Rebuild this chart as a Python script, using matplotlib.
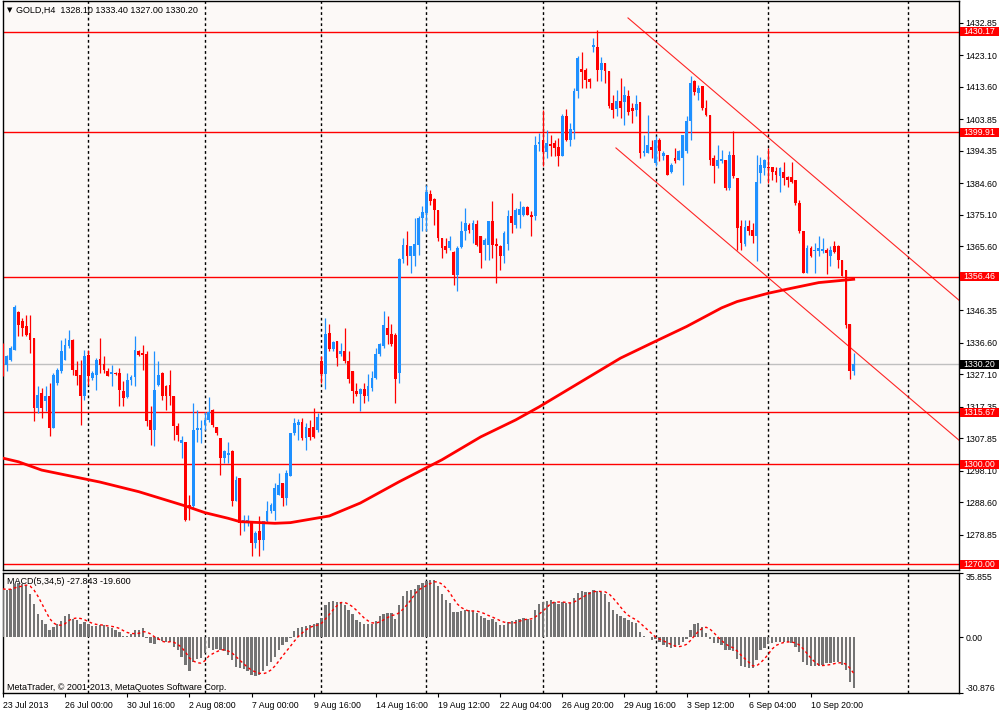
import numpy as np
import pandas as pd
import matplotlib
matplotlib.use("Agg")
import matplotlib.pyplot as plt
from matplotlib.patches import Rectangle

plt.rcParams['font.family'] = ['Liberation Sans', 'DejaVu Sans']
plt.rcParams['font.size'] = 6.3

# GOLD H4 candles, 23 Jul 2013 .. 12 Sep 2013 (one bar = 4 hours)
opens = [
    1329.5, 1330.0, 1331.5, 1334.5, 1346.0, 1343.0, 1341.5, 1339.5, 1338.0, 1317.0,
    1321.5, 1319.0, 1320.5, 1311.0, 1324.5, 1328.0, 1331.5, 1335.5, 1337.5, 1328.5,
    1327.0, 1320.5, 1333.0, 1326.0, 1327.0, 1331.7, 1330.3, 1328.2, 1327.3, 1327.6,
    1327.5, 1322.2, 1320.3, 1325.3, 1326.3, 1334.0, 1333.5, 1333.3, 1313.3, 1310.5,
    1324.0, 1327.5, 1323.7, 1324.0, 1320.5, 1311.5, 1306.5, 1306.9, 1287.9, 1287.4,
    1310.4, 1310.4, 1311.9, 1313.4, 1316.4, 1311.4, 1307.9, 1301.9, 1302.9, 1303.9,
    1288.9, 1295.9, 1282.4, 1282.6, 1282.9, 1276.4, 1279.9, 1277.4, 1282.9, 1285.9,
    1285.9, 1290.9, 1294.4, 1289.9, 1296.4, 1309.4, 1311.9, 1312.9, 1307.9, 1310.9,
    1311.4, 1310.4, 1331.1, 1327.1, 1339.4, 1334.6, 1337.1, 1333.1, 1334.1, 1331.1,
    1328.1, 1322.1, 1321.1, 1322.6, 1320.6, 1323.1, 1326.1, 1333.1, 1335.6, 1341.1,
    1339.1, 1338.8, 1327.6, 1361.8, 1366.1, 1362.8, 1362.6, 1366.1, 1374.1, 1375.6,
    1381.4, 1379.8, 1376.6, 1368.1, 1365.6, 1365.1, 1363.8, 1357.1, 1365.4, 1370.1,
    1372.1, 1370.6, 1372.4, 1368.6, 1366.1, 1366.1, 1373.1, 1366.4, 1365.8, 1362.6,
    1366.4, 1374.8, 1372.1, 1375.1, 1375.1, 1377.4, 1374.9, 1374.6, 1396.5, 1397.5,
    1393.9, 1396.5, 1396.7, 1395.5, 1392.7, 1404.7, 1397.5, 1400.7, 1412.2, 1418.9,
    1418.7, 1415.9, 1425.7, 1425.7, 1418.7, 1420.7, 1418.2, 1408.7, 1406.9, 1409.2,
    1408.9, 1410.9, 1407.2, 1406.7, 1408.9, 1393.7, 1393.7, 1395.5, 1390.7, 1397.5,
    1392.7, 1393.2, 1387.9, 1392.2, 1391.7, 1392.2, 1394.2, 1403.2, 1415.2, 1411.7,
    1413.7, 1407.2, 1405.2, 1392.2, 1389.7, 1391.2, 1391.7, 1383.2, 1393.2, 1386.1,
    1371.6, 1366.4, 1371.6, 1370.6, 1368.6, 1387.6, 1389.1, 1389.6, 1389.4, 1388.4,
    1386.8, 1388.1, 1386.4, 1386.4, 1385.6, 1378.6, 1370.1, 1357.6, 1365.1, 1364.1,
    1364.1, 1364.3, 1364.6, 1362.6, 1365.8, 1365.8, 1361.6, 1358.4, 1342.1, 1328.1,
]
highs = [
    1336.5, 1333.0, 1335.5, 1348.0, 1346.3, 1344.0, 1345.0, 1345.0, 1338.0, 1323.5,
    1323.0, 1323.5, 1324.5, 1327.5, 1329.0, 1337.5, 1338.0, 1340.5, 1337.7, 1331.0,
    1331.5, 1334.5, 1334.5, 1328.0, 1332.0, 1338.0, 1332.5, 1329.0, 1330.0, 1327.7,
    1329.0, 1325.0, 1327.5, 1327.0, 1338.5, 1334.5, 1336.0, 1334.0, 1317.5, 1334.0,
    1331.0, 1327.7, 1324.0, 1328.5, 1320.5, 1312.5, 1308.5, 1306.9, 1290.9, 1318.4,
    1316.4, 1313.4, 1315.9, 1320.4, 1316.6, 1311.4, 1307.9, 1304.4, 1306.9, 1304.2,
    1296.4, 1295.9, 1284.9, 1284.9, 1282.9, 1279.9, 1284.4, 1282.9, 1288.9, 1288.4,
    1294.4, 1297.4, 1294.4, 1298.4, 1309.4, 1313.9, 1313.6, 1313.9, 1312.4, 1313.4,
    1316.9, 1315.4, 1332.6, 1344.1, 1342.1, 1337.1, 1337.1, 1336.6, 1341.1, 1334.1,
    1328.1, 1324.6, 1323.1, 1324.6, 1327.1, 1328.1, 1335.1, 1336.6, 1346.1, 1344.6,
    1342.1, 1339.6, 1362.1, 1368.1, 1370.1, 1365.6, 1374.1, 1374.6, 1377.6, 1384.1,
    1382.6, 1380.1, 1376.6, 1368.1, 1368.1, 1368.6, 1364.1, 1365.6, 1373.1, 1377.1,
    1372.6, 1373.6, 1373.6, 1368.6, 1368.1, 1373.1, 1379.1, 1368.1, 1366.1, 1370.1,
    1376.6, 1381.6, 1377.1, 1379.1, 1377.6, 1377.6, 1376.1, 1398.7, 1399.7, 1406.7,
    1400.7, 1399.2, 1397.7, 1398.2, 1405.5, 1406.9, 1402.7, 1413.2, 1422.9, 1424.2,
    1419.2, 1416.2, 1428.2, 1430.7, 1422.7, 1420.9, 1418.2, 1411.2, 1412.7, 1416.2,
    1413.7, 1412.7, 1408.7, 1411.2, 1408.9, 1399.2, 1405.2, 1397.7, 1398.7, 1398.2,
    1394.2, 1393.2, 1390.7, 1395.2, 1394.7, 1399.2, 1404.7, 1416.7, 1415.7, 1414.2,
    1413.7, 1409.7, 1405.2, 1393.2, 1396.2, 1394.7, 1391.7, 1394.2, 1400.2, 1386.1,
    1373.6, 1373.6, 1373.6, 1372.6, 1393.1, 1392.6, 1391.8, 1395.1, 1389.6, 1389.6,
    1389.6, 1391.1, 1386.8, 1391.1, 1385.6, 1379.6, 1370.1, 1366.1, 1365.6, 1366.6,
    1368.6, 1368.1, 1365.1, 1365.6, 1367.1, 1366.1, 1361.6, 1358.6, 1342.1, 1333.4,
]
lows = [
    1326.5, 1328.0, 1331.0, 1334.5, 1338.5, 1338.5, 1338.5, 1333.5, 1313.0, 1315.5,
    1314.0, 1316.0, 1308.5, 1311.0, 1324.0, 1327.5, 1331.3, 1335.0, 1327.0, 1324.0,
    1312.0, 1319.5, 1324.0, 1325.5, 1322.5, 1327.5, 1327.5, 1326.5, 1323.5, 1327.0,
    1317.5, 1317.5, 1320.0, 1324.0, 1323.5, 1332.7, 1328.5, 1311.5, 1306.0, 1305.5,
    1323.5, 1319.5, 1316.5, 1318.0, 1307.5, 1307.0, 1302.0, 1282.9, 1283.4, 1286.9,
    1306.9, 1306.4, 1310.4, 1312.9, 1311.4, 1308.9, 1296.9, 1300.4, 1300.4, 1287.4,
    1288.9, 1278.9, 1279.9, 1281.4, 1272.4, 1274.9, 1272.4, 1274.4, 1282.4, 1285.4,
    1283.4, 1290.9, 1287.4, 1287.9, 1296.4, 1308.9, 1307.4, 1307.4, 1304.4, 1307.4,
    1307.9, 1309.9, 1324.6, 1322.6, 1334.1, 1334.1, 1329.6, 1332.6, 1330.6, 1324.6,
    1318.6, 1320.6, 1316.1, 1318.6, 1319.1, 1322.1, 1325.6, 1332.6, 1335.1, 1336.1,
    1335.6, 1318.6, 1324.6, 1360.6, 1360.1, 1357.6, 1359.6, 1363.1, 1370.1, 1370.1,
    1378.1, 1372.1, 1367.1, 1362.1, 1363.6, 1364.6, 1354.1, 1352.1, 1365.1, 1367.6,
    1369.6, 1366.6, 1365.6, 1359.1, 1361.6, 1361.6, 1362.1, 1354.6, 1358.6, 1360.6,
    1364.6, 1369.6, 1371.1, 1371.1, 1374.6, 1375.1, 1368.6, 1373.5, 1394.2, 1389.7,
    1392.2, 1392.7, 1392.7, 1389.7, 1392.7, 1397.2, 1395.7, 1397.9, 1410.2, 1413.2,
    1413.2, 1413.2, 1424.2, 1415.2, 1415.2, 1414.7, 1407.2, 1404.2, 1404.7, 1404.2,
    1402.2, 1405.2, 1402.7, 1404.7, 1392.2, 1392.7, 1393.7, 1392.2, 1389.7, 1391.2,
    1391.7, 1387.2, 1387.7, 1390.7, 1391.7, 1384.2, 1393.7, 1397.7, 1411.2, 1409.7,
    1406.7, 1404.7, 1390.2, 1384.7, 1389.2, 1390.7, 1382.7, 1382.7, 1386.2, 1364.6,
    1364.6, 1365.6, 1369.1, 1366.6, 1361.1, 1384.6, 1387.1, 1384.6, 1385.6, 1385.1,
    1381.8, 1384.1, 1383.6, 1384.6, 1378.1, 1369.6, 1357.6, 1357.6, 1362.4, 1357.6,
    1362.6, 1363.6, 1357.4, 1359.6, 1363.6, 1359.1, 1356.6, 1341.1, 1325.6, 1327.0,
]
closes = [
    1328.0, 1332.5, 1335.0, 1347.5, 1342.0, 1341.0, 1339.0, 1337.5, 1317.0, 1321.0,
    1317.0, 1320.7, 1311.0, 1327.0, 1328.5, 1334.0, 1336.0, 1337.5, 1328.5, 1326.7,
    1320.5, 1332.5, 1326.5, 1327.5, 1331.5, 1330.0, 1328.5, 1326.7, 1327.7, 1327.3,
    1322.5, 1320.0, 1325.3, 1326.3, 1334.5, 1333.0, 1333.0, 1313.0, 1310.5, 1322.5,
    1327.0, 1320.5, 1320.5, 1320.5, 1311.5, 1309.0, 1307.5, 1283.4, 1286.9, 1310.4,
    1310.9, 1310.9, 1313.4, 1315.9, 1311.9, 1309.4, 1301.9, 1303.9, 1303.4, 1288.9,
    1295.4, 1282.4, 1283.4, 1283.4, 1276.4, 1279.4, 1277.4, 1282.9, 1285.9, 1287.9,
    1292.9, 1293.9, 1289.9, 1297.4, 1309.4, 1312.4, 1312.9, 1307.9, 1311.4, 1308.4,
    1308.4, 1314.4, 1327.1, 1339.1, 1334.6, 1336.8, 1332.1, 1334.1, 1331.1, 1325.6,
    1322.1, 1321.1, 1322.6, 1320.6, 1323.6, 1326.1, 1333.1, 1336.1, 1341.8, 1338.8,
    1336.1, 1325.6, 1361.8, 1366.1, 1362.6, 1365.6, 1366.4, 1374.1, 1375.8, 1381.8,
    1379.1, 1376.6, 1368.1, 1365.1, 1364.6, 1367.1, 1357.1, 1365.1, 1370.1, 1372.6,
    1370.6, 1372.6, 1366.1, 1363.6, 1367.6, 1373.1, 1366.1, 1365.8, 1362.6, 1369.6,
    1374.8, 1372.6, 1376.6, 1376.8, 1377.4, 1375.1, 1374.4, 1396.2, 1396.9, 1393.9,
    1396.7, 1395.7, 1395.2, 1392.7, 1404.7, 1397.5, 1400.9, 1412.2, 1422.2, 1417.9,
    1415.7, 1414.9, 1426.2, 1418.7, 1420.9, 1418.2, 1407.9, 1406.7, 1409.2, 1407.2,
    1411.2, 1405.9, 1406.2, 1408.5, 1393.7, 1394.2, 1396.2, 1394.5, 1397.7, 1394.2,
    1393.7, 1387.2, 1390.2, 1391.2, 1394.2, 1399.2, 1403.2, 1414.7, 1411.9, 1413.2,
    1407.2, 1405.2, 1391.7, 1389.7, 1391.7, 1391.9, 1383.2, 1393.2, 1386.7, 1371.1,
    1366.6, 1371.4, 1370.1, 1368.6, 1385.1, 1390.1, 1391.6, 1389.1, 1388.1, 1387.1,
    1389.1, 1386.1, 1385.6, 1385.1, 1378.6, 1370.1, 1357.6, 1365.1, 1362.6, 1364.6,
    1365.1, 1364.8, 1363.6, 1364.6, 1363.8, 1361.6, 1356.6, 1341.8, 1328.1, 1330.2,
]

# MACD(5,34,5) main line per bar
macd = [
    27.0, 26.5, 27.0, 29.8, 30.1, 29.8, 28.9, 24.3, 18.8, 13.2,
    9.6, 7.7, 4.0, 5.9, 7.4, 9.2, 11.8, 13.2, 10.5, 9.6,
    7.7, 8.6, 7.4, 6.3, 6.4, 6.8, 6.8, 5.9, 5.0, 4.4,
    3.1, 0.7, 0.7, 2.2, 4.0, 4.0, 5.3, -0.2, -3.3, -3.7,
    -1.5, -2.0, -2.4, -2.4, -5.1, -7.0, -10.7, -15.3, -18.9, -13.4,
    -12.1, -11.6, -8.8, -5.7, -7.0, -6.6, -7.0, -7.4, -9.7, -12.5,
    -16.5, -17.1, -17.6, -18.9, -20.8, -21.3, -20.8, -18.9, -15.8, -13.4,
    -10.7, -7.0, -4.2, -2.4, -0.2, 3.5, 5.5, 5.9, 6.3, 6.8,
    7.4, 8.1, 11.0, 17.8, 19.7, 20.2, 19.7, 19.7, 17.8, 15.4,
    12.9, 9.9, 8.6, 7.4, 7.4, 7.4, 9.2, 11.8, 13.2, 13.6,
    13.6, 10.5, 17.8, 23.3, 25.7, 26.5, 27.0, 29.4, 30.1, 31.3,
    32.0, 32.0, 28.9, 24.3, 21.0, 19.1, 14.2, 14.2, 14.7, 15.1,
    15.1, 14.7, 13.6, 11.8, 11.0, 9.9, 10.5, 8.6, 6.8, 6.8,
    8.6, 9.2, 9.9, 10.5, 10.8, 10.5, 9.9, 15.1, 18.4, 19.7,
    20.2, 20.6, 19.7, 18.4, 19.7, 19.1, 19.1, 22.1, 24.6, 25.7,
    25.2, 25.2, 26.5, 25.7, 25.2, 24.3, 19.7, 15.4, 13.2, 11.8,
    11.0, 9.9, 8.6, 8.1, 3.1, 0.7, 0.1, -1.5, -1.1, -2.4,
    -4.2, -5.5, -6.1, -5.5, -4.2, -2.4, -0.6, 4.4, 7.4, 8.1,
    5.9, 2.6, -0.6, -2.9, -3.3, -4.2, -6.8, -7.0, -7.4, -12.1,
    -15.8, -16.5, -17.1, -17.1, -12.5, -7.0, -6.1, -3.7, -2.9, -2.4,
    -2.4, -2.4, -2.4, -2.9, -5.1, -7.9, -13.4, -15.3, -15.8, -15.8,
    -15.8, -15.3, -14.3, -14.0, -13.4, -13.4, -15.3, -18.0, -25.0, -27.843,
]

# long moving average, read at a few bars
ma_bars = [0, 4, 10, 25, 35, 47, 52, 58, 61, 70, 74, 78, 84, 92, 102,
           113, 123, 132, 138, 149, 159, 167, 176, 185, 189, 197, 203, 210, 219]
ma_vals = [1301.9, 1300.8, 1298.3, 1294.7, 1291.8, 1287.5, 1285.5, 1283.8, 1282.8,
           1282.3, 1282.5, 1283.3, 1284.5, 1288.4, 1294.8, 1301.4, 1308.3, 1313.4,
           1317.3, 1325.0, 1332.0, 1336.5, 1341.5, 1347.1, 1349.0, 1351.5, 1353.0,
           1354.7, 1355.7]

levels = [1430.17, 1399.91, 1356.46, 1315.67, 1300.00, 1270.00]

# falling channel: (start bar, start price, end bar, end price)
channel_upper = (160.9, 1434.3, 246.1, 1349.4)
channel_lower = (157.8, 1395.2, 246.1, 1307.3)

# scale labels that show in the reference (1356.10 sits under the 1356.46 box)
price_ticks = [1432.85, 1423.10, 1413.60, 1403.85, 1394.35, 1384.60, 1375.10, 1365.60,
               1346.35, 1336.60, 1327.10, 1317.35, 1307.85, 1298.10, 1288.60, 1278.85]
macd_ticks = [35.855, 0.0, -30.876]

time_labels = ["23 Jul 2013", "26 Jul 00:00", "30 Jul 16:00", "2 Aug 08:00", "7 Aug 00:00",
               "9 Aug 16:00", "14 Aug 16:00", "19 Aug 12:00", "22 Aug 04:00", "26 Aug 20:00",
               "29 Aug 16:00", "3 Sep 12:00", "6 Sep 04:00", "10 Sep 20:00"]
time_label_bars = [0, 16, 32, 48, 64, 80, 96, 112, 128, 144, 160, 176, 192, 208]
grid_bars = [22, 52, 82, 109, 139, 168, 197, 233]

BLUE = "#1e90ff"
RED = "#ff0000"
BG = "#fcf9f7"

o = np.array(opens)
h = np.array(highs)
l = np.array(lows)
c = np.array(closes)
bars = np.arange(len(c))
col = np.where(c >= o, BLUE, RED)

fig = plt.figure(figsize=(10, 7.11), dpi=100)
ax = fig.add_axes([0.0025, 0.199, 0.9565, 0.7996])
ax2 = fig.add_axes([0.0025, 0.0253, 0.9565, 0.1688])

for a in (ax, ax2):
    a.set_facecolor(BG)
    a.set_xlim(-0.1, 246.1)
    for s in a.spines.values():
        s.set_color("black")
        s.set_linewidth(1)
    for g in grid_bars:
        a.axvline(g, color="black", lw=1, ls=(0, (2, 2)), zorder=1)

# --- price panel ---
ax.set_ylim(1268.4, 1439.4)
ax.axhline(closes[-1], color="#c0c0c0", lw=1, zorder=0.5)
for p in levels:
    ax.axhline(p, color=RED, lw=1, zorder=2)

ax.vlines(bars, l, h, colors=col, lw=0.9, zorder=3)
ax.bar(bars, np.maximum(np.abs(c - o), 0.3), bottom=np.minimum(o, c),
       width=0.72, color=col, lw=0, zorder=3)

ax.plot(ma_bars, ma_vals, color=RED, lw=2, zorder=4)
for x0, y0, x1, y1 in (channel_upper, channel_lower):
    ax.plot([x0, x1], [y0, y1], color=RED, lw=0.8, alpha=0.85, zorder=4)

ax.set_xticks([])
ax.yaxis.tick_right()
ax.set_yticks(price_ticks)
ax.set_yticklabels([f"{v:.2f}" for v in price_ticks])
ax.tick_params(axis="y", direction="out", length=3, pad=1.5, labelsize=6.3)

tr = ax.get_yaxis_transform()
box_h = 2.7
for p, fc in [(v, RED) for v in levels] + [(closes[-1], "black")]:
    ax.add_patch(Rectangle((1.0012, p - box_h / 2), 0.0406, box_h, transform=tr,
                           facecolor=fc, edgecolor="none", clip_on=False, zorder=10))
    ax.text(1.0045, p, f"{p:.2f}", transform=tr, ha="left", va="center",
            fontsize=6.3, color="white", clip_on=False, zorder=11)

fig.text(0.0095, 1 - 10 / 711, "\u25bc", fontsize=5, ha="center", va="center",
         family=["DejaVu Sans"])
fig.text(0.0165, 1 - 10 / 711, "GOLD,H4  1328.10 1333.40 1327.00 1330.20",
         fontsize=6.5, ha="left", va="center")

# --- MACD panel ---
signal = pd.Series(macd).rolling(5, min_periods=1).mean()
ax2.set_ylim(macd_ticks[2], macd_ticks[0])
ax2.bar(bars, macd, width=0.6, color="#747474", lw=0, zorder=3)
ax2.plot(bars, signal, color=RED, lw=1, ls=(0, (2, 2)), zorder=4)

ax2.yaxis.tick_right()
ax2.set_yticks(macd_ticks)
ax2.set_yticklabels(["35.855", "0.00", "-30.876"])
ax2.tick_params(axis="y", direction="out", length=3, pad=1.5, labelsize=6.3)
ylabs = ax2.get_yticklabels()
ylabs[0].set_va("top")
ylabs[2].set_va("bottom")

ax2.set_xticks(time_label_bars)
ax2.set_xticklabels(time_labels)
ax2.tick_params(axis="x", direction="out", length=3, pad=2.5, labelsize=6.3)
for t in ax2.get_xticklabels():
    t.set_ha("left")

fig.text(0.0067, 1 - 582 / 711, "MACD(5,34,5) -27.843 -19.600",
         fontsize=6.5, ha="left", va="center")
fig.text(0.0067, 1 - 687 / 711, "MetaTrader, \u00a9 2001-2013, MetaQuotes Software Corp.",
         fontsize=6.5, ha="left", va="center")

fig.savefig("out.png", dpi=100, facecolor="white")
